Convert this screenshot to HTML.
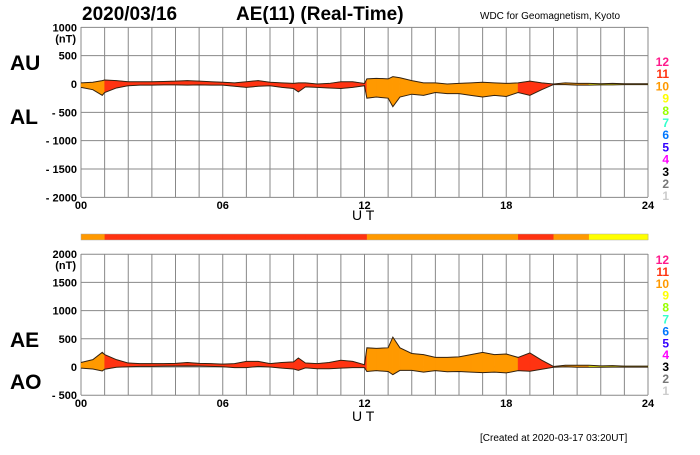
<!DOCTYPE html>
<html><head><meta charset="utf-8"><style>
body{margin:0;background:#fff;font-family:"Liberation Sans",Arial,sans-serif;}
svg text{font-family:"Liberation Sans",Arial,sans-serif;}
</style></head><body>
<svg id="c" width="700" height="450" viewBox="0 0 700 450" xmlns="http://www.w3.org/2000/svg">
<text x="82" y="20" font-size="19" font-weight="bold">2020/03/16</text>
<text x="236" y="20" font-size="19" font-weight="bold">AE(11) (Real-Time)</text>
<text x="480" y="19" font-size="10">WDC for Geomagnetism, Kyoto</text>
<text x="10" y="70" font-size="21" font-weight="bold">AU</text>
<text x="10" y="124" font-size="21" font-weight="bold">AL</text>
<text x="10" y="347" font-size="21" font-weight="bold">AE</text>
<text x="10" y="389" font-size="21" font-weight="bold">AO</text>
<text x="352" y="220" font-size="14">U T</text>
<text x="352" y="421" font-size="14">U T</text>
<text x="480" y="441" font-size="10">[Created at 2020-03-17 03:20UT]</text>
<g id="g"></g>
</svg>
<script>
const times=[0,0.5,0.9,1.0,1.5,2,2.5,3,3.5,4,4.5,5,5.5,6,6.5,7,7.5,8,8.5,9,9.2,9.5,10,10.5,11,11.5,12,12.1,12.5,13,13.2,13.5,14,14.5,15,15.5,16,16.5,17,17.5,18,18.5,19,19.5,20,20.5,21,21.5,22,22.5,23,23.5,24];
const auValues=[20,30,60,70,60,40,40,40,45,50,60,50,40,30,20,40,60,30,20,10,20,20,0,10,40,40,10,90,100,90,130,110,60,20,20,0,10,20,30,20,10,20,50,20,0,20,10,10,5,10,5,5,5];
const alValues=[-60,-100,-200,-150,-70,-30,-20,-20,-15,-15,-20,-15,-20,-20,-40,-60,-40,-30,-60,-80,-140,-50,-60,-70,-80,-60,-30,-250,-230,-250,-400,-230,-180,-200,-150,-170,-170,-200,-230,-200,-220,-150,-200,-100,-10,-10,-20,-20,-15,-15,-10,-10,-10];
const levels=[10,10,10,11,11,11,11,11,11,11,11,11,11,11,11,11,11,11,11,11,11,11,11,11,11,11,11,10,10,10,10,10,10,10,10,10,10,10,10,10,10,11,11,11,10,10,10,9,9,9,9,9,9];
const levelLabels=["12","11","10","9","8","7","6","5","4","3","2","1"];
const levelColors={12:"#ff1a8c",11:"#ff3311",10:"#ff9900",9:"#ffff00",8:"#99ff00",7:"#33ffcc",6:"#0077ff",5:"#3300ff",4:"#ff00ff",3:"#000000",2:"#777777",1:"#cccccc"};
const topTicks=[1000,500,0,-500,-1000,-1500,-2000];
const botTicks=[2000,1500,1000,500,0,-500];
const hourLabels=["00","06","12","18","24"];

const NS="http://www.w3.org/2000/svg",G=document.getElementById('g');
const X0=81,X1=648;
const xs=t=>X0+(X1-X0)*t/24;
const yTop=v=>84-(v)*28.33/500;
const yBot=v=>367-(v)*28.2/500;
function el(tag,attrs,parent){const e=document.createElementNS(NS,tag);for(const k in attrs)e.setAttribute(k,attrs[k]);(parent||G).appendChild(e);return e;}

function panel(ys,ticks,yTopPx,yBotPx,hi,lo,name,legY,legStep){
  for(let h=0;h<=24;h++){const l=el('line',{x1:xs(h),x2:xs(h),y1:yTopPx,y2:yBotPx,stroke:'#888','stroke-width':1});
    }
  ticks.forEach((v,i)=>{const y=ys(v);
    const l=el('line',{x1:X0,x2:X1,y1:y,y2:y,stroke:'#888','stroke-width':1});
    
    let lab=v<0?('- '+(-v)):String(v);
    const t=el('text',{x:X0-4,y:y+4,'font-size':11,'font-weight':'bold','text-anchor':'end'});t.textContent=lab;
    
    if(i===0){const u=el('text',{x:X0-5,y:y+15,'font-size':11,'font-weight':'bold','text-anchor':'end'});u.textContent='(nT)';
      }
  });
  hourLabels.forEach((h,i)=>{const t=el('text',{x:xs(i*6),y:yBotPx+12,'font-size':11,'font-weight':'bold','text-anchor':'middle'});t.textContent=h;
    });
  for(let i=0;i<times.length-1;i++){
    const p=[[xs(times[i]),ys(hi[i])],[xs(times[i+1]),ys(hi[i+1])],[xs(times[i+1]),ys(lo[i+1])],[xs(times[i]),ys(lo[i])]];
    const f=el('polygon',{points:p.map(q=>q.join(',')).join(' '),fill:levelColors[levels[i]],stroke:levelColors[levels[i]],'stroke-width':0.5});
    
  }
  [hi,lo].forEach((arr,k)=>{const pl=el('polyline',{points:times.map((t,i)=>xs(t)+','+ys(arr[i])).join(' '),fill:'none',stroke:'#332211','stroke-width':1});
    });
  levelLabels.forEach((l,i)=>{const t=el('text',{x:669,y:legY+i*legStep,'font-size':12,'font-weight':'bold','text-anchor':'end',fill:levelColors[+l]});t.textContent=l;
    });
}
panel(yTop,topTicks,27,197,auValues,alValues,'top',66,12.2);
const ae=auValues.map((u,i)=>u-alValues[i]);
const ao=auValues.map((u,i)=>(u+alValues[i])/2);
panel(yBot,botTicks,254,395,ae,ao,'bottom',264,11.9);
for(let i=0;i<times.length-1;i++){
  const r=el('rect',{x:xs(times[i]),y:234,width:xs(times[i+1])-xs(times[i])+0.5,height:6,fill:levelColors[levels[i]]});
  
}
const bb=el('rect',{x:X0,y:234,width:X1-X0,height:6,fill:'none',stroke:'#aaa','stroke-width':0.5});

</script>
</body></html>
